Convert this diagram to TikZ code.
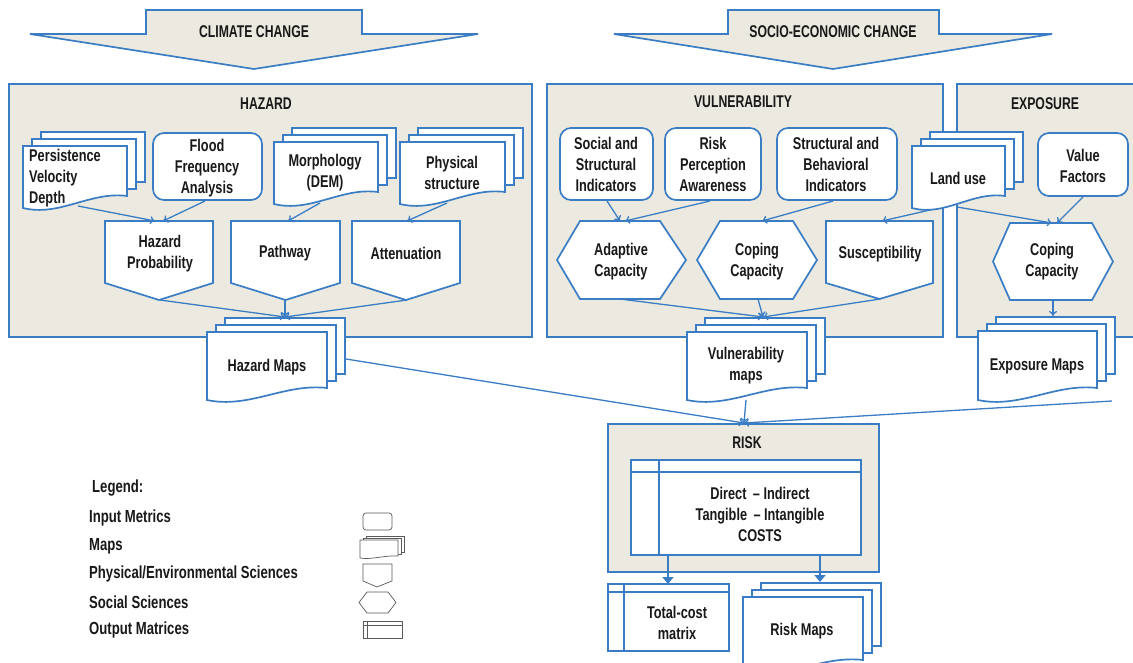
\documentclass[tikz,border=0pt]{standalone}
\usepackage{fontspec}
\setmainfont{Liberation Sans}[FakeStretch=0.75]
\newfontfamily\ttlfont{Liberation Sans}[FakeStretch=0.72]
\usetikzlibrary{arrows.meta}
\definecolor{bl}{RGB}{58,125,196}
\definecolor{bgc}{RGB}{236,234,224}
\definecolor{tx}{RGB}{25,25,25}
\definecolor{lg}{RGB}{90,90,90}
% document shape: left, top, right, bottom(left)
\newcommand{\docfront}[4]{%
  \draw[shp,fill=white] (#1,#2) -- (#3,#2) -- (#3,{#4-12})
   .. controls ({#1+0.65*(#3-#1)},{#4-17}) and ({#1+0.35*(#3-#1)},{#4+9}) .. (#1,#4) -- cycle;}
\newcommand{\docstackshape}[4]{%
  \draw[shp,fill=white] ({#1+18},{#2-14}) rectangle ({#3+18},{#4-12-14});
  \draw[shp,fill=white] ({#1+9},{#2-7}) rectangle ({#3+9},{#4-12-7});
  \docfront{#1}{#2}{#3}{#4}}
% physical shape: left, top, right, side bottom, tip y
\newcommand{\physshape}[5]{%
  \draw[shp,fill=white] (#1,#2) -- (#3,#2) -- (#3,#4) -- ({(#1+#3)/2},#5) -- (#1,#4) -- cycle;}
% hexagon: left point x, left top x, right top x, right point x, top, bottom
\newcommand{\hexshape}[6]{%
  \draw[shp,fill=white] (#1,{(#5+#6)/2}) -- (#2,#5) -- (#3,#5) -- (#4,{(#5+#6)/2}) -- (#3,#6) -- (#2,#6) -- cycle;}
\begin{document}
\begin{tikzpicture}[x=1pt,y=-1pt,
  shp/.style={draw=bl,line width=1.7pt,line join=miter},
  rrect/.style={shp,fill=white,rounded corners=11pt},
  conn/.style={draw=bl,line width=1.3pt,-{To[length=5pt,width=8pt]}},
  bigconn/.style={draw=bl,line width=2.6pt,-{Triangle[length=7pt,width=11pt]}},
  lbl/.style={font=\fontsize{17}{21}\selectfont\bfseries,text=tx,align=center,inner sep=0pt},
  ttl/.style={font=\ttlfont\fontsize{17}{20}\selectfont\bfseries,text=tx,inner sep=0pt},
  leg/.style={font=\fontsize{17.5}{20}\selectfont\bfseries,text=tx,inner sep=0pt,anchor=west},
  lgs/.style={draw=lg,line width=0.7pt,fill=white}]
\useasboundingbox (0,0) rectangle (1133,662);
\fill[white] (0,0) rectangle (1133,662);

% ---------- top arrows ----------
\draw[shp,fill=bgc] (146,10) -- (362,10) -- (362,34) -- (478,34) -- (254,69) -- (30,34) -- (146,34) -- cycle;
\node[ttl] (cc) at (254,32) {CLIMATE CHANGE};
\draw[shp,fill=bgc] (728,10) -- (939,10) -- (939,34) -- (1052,34) -- (833,69) -- (614,34) -- (728,34) -- cycle;
\node[ttl] (sec) at (833,32) {SOCIO-ECONOMIC CHANGE};

% ---------- panels ----------
\draw[shp,fill=bgc] (9,84) rectangle (532,337);
\node[ttl] (hz) at (266,104) {HAZARD};
\draw[shp,fill=bgc] (547,84) rectangle (943,337);
\node[ttl] (vu) at (743,102) {VULNERABILITY};
\draw[shp,fill=bgc] (957,84) rectangle (1140,337);
\node[ttl] (ex) at (1045,104) {EXPOSURE};

% ---------- hazard contents ----------
\docstackshape{23}{146}{127}{208}
\node[lbl,align=left,anchor=west] (pvd) at (29,178) {Persistence\\Velocity\\Depth};
\draw[rrect] (153,133) rectangle (262,200);
\node[lbl] (ffa) at (207,168) {Flood\\Frequency\\Analysis};
\docstackshape{274}{142}{378}{204}
\node[lbl] (mor) at (325,173) {Morphology\\(DEM)};
\docstackshape{400}{142}{505}{204}
\node[lbl] (phy) at (452,173) {Physical\\structure};
\physshape{105}{221}{213}{283}{300}
\node[lbl] (hp) at (160,254) {Hazard\\Probability};
\physshape{231}{221}{340}{283}{300}
\node[lbl] (pw) at (285,253) {Pathway};
\physshape{352}{221}{460}{283}{300}
\node[lbl] (att) at (406,253) {Attenuation};

% ---------- vulnerability contents ----------
\draw[rrect] (560,128) rectangle (653,200);
\node[lbl] (ssi) at (606,164) {Social and\\Structural\\Indicators};
\draw[rrect] (665,128) rectangle (761,200);
\node[lbl] (rpa) at (713,164) {Risk\\Perception\\Awareness};
\draw[rrect] (777,128) rectangle (897,200);
\node[lbl] (sbi) at (836,164) {Structural and\\Behavioral\\Indicators};
\hexshape{557}{580}{660}{686}{221}{299}
\node[lbl] (ac) at (621,262) {Adaptive\\Capacity};
\hexshape{697}{720}{793}{817}{221}{299}
\node[lbl] (cc1) at (757,262) {Coping\\Capacity};
\physshape{826}{221}{933}{283}{299}
\node[lbl] (su) at (880,254) {Susceptibility};

% ---------- exposure contents ----------
\docstackshape{912}{146}{1005}{208}
\node[lbl] (lu) at (958,178) {Land use};
\draw[rrect] (1038,133) rectangle (1128,196);
\node[lbl] (vf) at (1083,166) {Value\\Factors};
\hexshape{993}{1010}{1092}{1113}{223}{300}
\node[lbl] (cc2) at (1052,262) {Coping\\Capacity};

% ---------- maps ----------
\docstackshape{207}{332}{327}{400}
\node[lbl] (hm) at (267,367) {Hazard Maps};
\docstackshape{687}{332}{807}{400}
\node[lbl] (vm) at (746,366) {Vulnerability\\maps};
\docstackshape{978}{331}{1097}{400}
\node[lbl] (em) at (1037,366) {Exposure Maps};

% ---------- risk ----------
\draw[shp,fill=bgc] (608,424) rectangle (879,572);
\node[ttl] (rk) at (747,443) {RISK};
\draw[shp,fill=white] (631,460) rectangle (861,555);
\draw[shp] (631,472) -- (861,472);
\draw[shp] (659,460) -- (659,555);
\node[lbl] (cst) at (760,514) {Direct \,– Indirect\\Tangible \,– Intangible\\COSTS};
\draw[shp,fill=white] (608,584) rectangle (729,651);
\draw[shp] (608,592) -- (729,592);
\draw[shp] (624,584) -- (624,651);
\node[lbl] (tcm) at (677,623) {Total-cost\\matrix};
\docstackshape{743}{597}{863}{672}
\node[lbl] (rm) at (802,631) {Risk Maps};

% ---------- connector end points ----------
\coordinate (pvd-o) at (78,206);   \coordinate (hp-i1) at (155,221);
\coordinate (ffa-o) at (205,201);  \coordinate (hp-i2) at (163,221);
\coordinate (mor-o) at (320,203);  \coordinate (pw-i) at (288,221);
\coordinate (phy-o) at (447,203);  \coordinate (att-i) at (407,221);
\coordinate (hp-o) at (160,300);   \coordinate (pw-o) at (285,300);
\coordinate (att-o) at (407,300);  \coordinate (hm-i) at (285,317);
\coordinate (ssi-o) at (607,201);  \coordinate (ac-i1) at (620,221);
\coordinate (rpa-o) at (710,201);  \coordinate (ac-i2) at (625,221);
\coordinate (sbi-o) at (833,201);  \coordinate (cc1-i) at (762,221);
\coordinate (lu-o1) at (930,210);  \coordinate (su-i) at (882,221);
\coordinate (lu-o2) at (957,207);  \coordinate (cc2-i1) at (1052,223);
\coordinate (vf-o) at (1083,197);  \coordinate (cc2-i2) at (1057,223);
\coordinate (ac-o) at (620,299);   \coordinate (cc1-o) at (758,299);
\coordinate (su-o) at (880,299);   \coordinate (vm-i) at (763,317);
\coordinate (cc2-o) at (1053,300); \coordinate (em-i) at (1053,316);
\coordinate (hm-o) at (346,359);   \coordinate (vm-o) at (746,400);
\coordinate (em-o) at (1112,401);  \coordinate (rk-i) at (744,423);
\coordinate (cst-o1) at (668,556); \coordinate (tcm-i) at (668,584);
\coordinate (cst-o2) at (820,556); \coordinate (rm-i) at (820,582);

\draw[conn] (pvd-o) -- (hp-i1);
\draw[conn] (ffa-o) -- (hp-i2);
\draw[conn] (mor-o) -- (pw-i);
\draw[conn] (phy-o) -- (att-i);
\draw[conn] (hp-o) -- (hm-i);
\draw[conn] (pw-o) -- (hm-i);
\draw[conn] (att-o) -- (hm-i);
\draw[conn] (ssi-o) -- (ac-i1);
\draw[conn] (rpa-o) -- (ac-i2);
\draw[conn] (sbi-o) -- (cc1-i);
\draw[conn] (lu-o1) -- (su-i);
\draw[conn] (lu-o2) -- (cc2-i1);
\draw[conn] (vf-o) -- (cc2-i2);
\draw[conn] (ac-o) -- (vm-i);
\draw[conn] (cc1-o) -- (vm-i);
\draw[conn] (su-o) -- (vm-i);
\draw[conn] (cc2-o) -- (em-i);
\draw[conn] (hm-o) -- (rk-i);
\draw[conn] (vm-o) -- (rk-i);
\draw[conn] (em-o) -- (rk-i);
\draw[bigconn] (cst-o1) -- (tcm-i);
\draw[bigconn] (cst-o2) -- (rm-i);

% ---------- legend ----------
\node[leg] (lgt) at (92,488) {Legend:};
\node[leg] (l1) at (89,518) {Input Metrics};
\node[leg] (l2) at (89,546) {Maps};
\node[leg] (l3) at (89,574) {Physical/Environmental Sciences};
\node[leg] (l4) at (89,602) {Social Sciences};
\node[leg] (l5) at (89,630) {Output Matrices};
\draw[lgs,rounded corners=3pt] (363,513) rectangle (392,530);
\draw[lgs] (366,536) rectangle (404,552);
\draw[lgs] (363,538) rectangle (401,554);
\draw[lgs] (360,540) -- (398,540) -- (398,556) .. controls (385,555) and (372,560) .. (360,558) -- cycle;
\draw[lgs] (363,564) -- (392,564) -- (392,581) -- (377,587) -- (363,581) -- cycle;
\draw[lgs] (359,602.5) -- (367,592) -- (388,592) -- (396,602.5) -- (388,613) -- (367,613) -- cycle;
\draw[lgs] (363,621) rectangle (402,638);
\draw[lgs] (363,625) -- (402,625);
\draw[lgs] (367,621) -- (367,638);
\end{tikzpicture}
\end{document}
